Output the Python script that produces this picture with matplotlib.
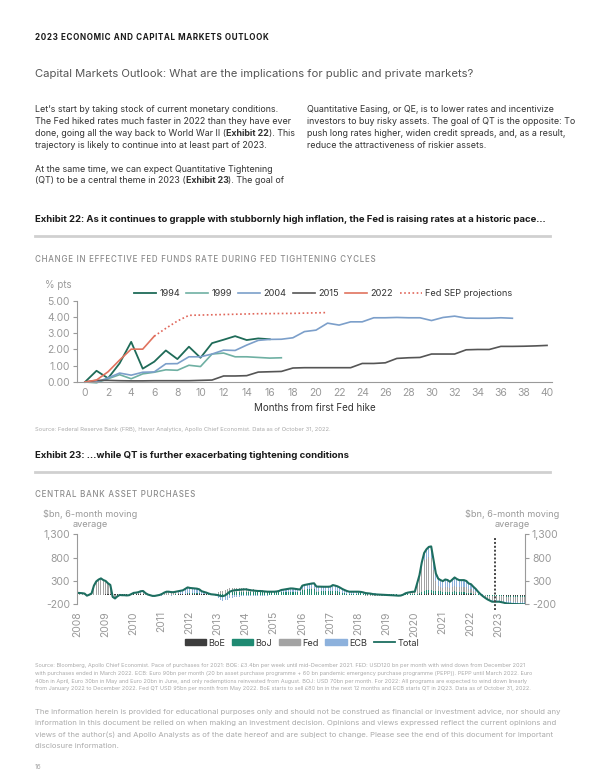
import numpy as np
import matplotlib
matplotlib.use("Agg")
import matplotlib.pyplot as plt
from matplotlib.patches import Patch
from matplotlib.lines import Line2D
from matplotlib.ticker import FuncFormatter

plt.rcParams['font.family'] = ['Inter', 'DejaVu Sans']

# ---- Exhibit 22 data: change in effective fed funds rate (% pts) by month from first hike
r1994 = [0, 0.69, 0.23, 1.15, 2.47, 0.82, 1.25, 1.94, 1.41, 2.17, 1.49, 2.39, 2.6, 2.82, 2.58, 2.68, 2.63]
r1999 = [0, -0.05, 0.2, 0.45, 0.2, 0.5, 0.6, 0.75, 0.72, 1.03, 0.95, 1.72, 1.78, 1.55, 1.55, 1.51, 1.47, 1.49]
r2004 = [0, 0, 0.25, 0.55, 0.42, 0.6, 0.62, 1.12, 1.13, 1.55, 1.55, 1.72, 1.96, 1.94, 2.27, 2.56, 2.62,
         2.63, 2.72, 3.1, 3.19, 3.62, 3.5, 3.7, 3.7, 3.95, 3.95, 3.97, 3.95, 3.95, 3.78, 3.97, 4.05,
         3.93, 3.92, 3.92, 3.95, 3.92]
r2015 = [0, 0.1, 0.1, 0.08, 0.07, 0.07, 0.08, 0.08, 0.08, 0.08, 0.1, 0.12, 0.37, 0.37, 0.39, 0.61,
         0.63, 0.65, 0.86, 0.88, 0.88, 0.88, 0.88, 0.88, 1.14, 1.14, 1.18, 1.45, 1.49, 1.51, 1.72,
         1.72, 1.72, 1.98, 2.0, 2.0, 2.19, 2.19, 2.2, 2.22, 2.25]
r2022 = [0, 0.12, 0.63, 1.35, 2.02, 2.02, 2.82]
sep_months = [6, 7, 8, 9, 12, 15, 18, 21]
sep_vals = [2.82, 3.3, 3.75, 4.1, 4.15, 4.2, 4.22, 4.27]

# ---- Exhibit 23 data: central bank asset purchases, $bn 6m avg, monthly Jan 2008 - Dec 2023
fed = [40, 38, 34, 28, -15, 4, 30, 190, 270, 305, 330, 300,
       260, 210, 175, -70, -95, -50, -15, -20, -20, -25, -20, 5,
       30, 35, 40, 40, 30, 10, 0, -5, -10, -10, 0, 10,
       30, 55, 70, 75, 70, 65, 50, 30, 10, 0, 0, 0,
       0, 0, 0, 0, 0, 0, 0, 0, 0, 5, 10, 20,
       40, 60, 75, 80, 85, 85, 85, 85, 85, 85, 85, 85,
       80, 75, 65, 60, 55, 50, 45, 40, 35, 25, 20, 15,
       10, 5, 0, 0, 0, 0, 0, 0, 0, 0, 0, 0,
       10, 10, 10, 10, 10, 10, 10, 10, 5, 5, 5, 5,
       0, 0, 0, 0, 0, 0, 0, 0, 0, 0, 0, 0,
       -10, -10, -10, -15, -15, -15, -20, -20, -20, -20, -20, -20,
       -20, -18, -20, -20, -22, -23, -20, -5, 25, 35, 40, 43,
       45, 200, 330, 520, 650, 680, 700, 690, 450, 200, 110, 90,
       95, 100, 100, 95, 110, 120, 115, 115, 115, 115, 110, 95,
       80, 60, 40, 20, 0, -30, -50, -70, -85, -95, -95, -95,
       -95, -95, -95, -95, -95, -95, -95, -95, -95, -95, -95, -95]
ecb = [5, 4, 4, 2, 0, 1, 3, 10, 20, 25, 25, 20,
       15, 15, 10, 5, 0, 0, -5, -5, -5, -5, -5, -5,
       5, 5, 10, 30, 45, 25, 5, -5, -15, -15, -15, -15,
       -15, -10, -5, -10, -15, -10, 10, 35, 60, 75, 100, 125,
       110, 105, 100, 95, 85, 50, 40, 30, 15, 0, -10, -25,
       -60, -100, -120, -115, -100, -70, -55, -45, -40, -35, -30, -25,
       -20, -25, -25, -25, -25, -25, -20, -20, -20, -15, -10, -5,
       -5, 5, 20, 40, 50, 60, 65, 70, 70, 65, 60, 59,
       80, 90, 95, 100, 105, 110, 100, 98, 96, 96, 96, 96,
       100, 120, 115, 105, 95, 80, 70, 60, 55, 55, 55, 55,
       45, 40, 35, 30, 28, 25, 25, 22, 20, 15, 12, 10,
       5, 0, 0, 0, 0, 0, 0, 0, 0, 5, 10, 15,
       15, 30, 55, 110, 160, 200, 220, 240, 200, 170, 160, 150,
       140, 160, 155, 130, 155, 180, 160, 150, 150, 150, 140, 110,
       105, 85, 70, 40, 20, 10, 0, -10, -20, -30, -30, -30,
       -30, -35, -40, -45, -48, -50, -52, -53, -54, -55, -55, -55]
boj = [0, 0, 0, 0, 0, 0, 0, 0, 0, 0, 0, 0,
       0, 0, 0, 0, 0, 0, 0, 0, 0, 0, 0, 0,
       0, 0, 0, 0, 0, 0, 0, 0, 0, 0, 0, 0,
       0, 0, 0, 0, 0, 0, 5, 5, 5, 5, 5, 7,
       10, 10, 10, 10, 10, 10, 10, 10, 10, 10, 10, 10,
       15, 20, 20, 25, 45, 55, 60, 60, 60, 60, 60, 60,
       60, 60, 60, 60, 60, 60, 60, 60, 60, 60, 60, 62,
       65, 65, 65, 66, 65, 65, 70, 70, 68, 65, 60, 56,
       110, 115, 120, 125, 130, 130, 70, 70, 70, 70, 70, 70,
       70, 80, 75, 70, 60, 45, 31, 20, 10, 10, 10, 10,
       35, 35, 30, 25, 22, 20, 15, 11, 10, 10, 11, 10,
       15, 15, 15, 12, 10, 8, 8, 10, 10, 10, 10, 10,
       10, 15, 30, 50, 60, 70, 75, 75, 65, 60, 50, 50,
       40, 45, 40, 35, 40, 45, 40, 30, 30, 30, 30, 25,
       30, 20, 15, 10, 0, -3, -5, -9, -10, -14, -14, -14,
       -14, -15, -15, -20, -20, -20, -20, -20, -20, -20, -20, -20]
boe = [0, 0, 0, 0, 0, 0, 0, 0, 0, 0, 0, 0,
       25, 25, 30, 25, 20, 20, 20, 20, 20, 20, 20, 20,
       10, 10, 10, 10, 10, 5, 5, 5, 5, 5, 5, 5,
       5, 5, 5, 5, 5, 5, 5, 10, 15, 20, 25, 30,
       30, 30, 30, 30, 25, 20, 15, 10, 5, 0, 0, 0,
       0, 0, 0, 0, 0, 0, 0, 0, 0, 0, 0, 0,
       0, 0, 0, 0, 0, 0, 0, 0, 0, 0, 0, 0,
       0, 0, 0, 0, 0, 0, 0, 0, 0, 0, 0, 0,
       0, 0, 0, 0, 0, 0, 0, 0, 5, 5, 5, 5,
       10, 12, 10, 10, 5, 5, 5, 5, 5, 5, 5, 5,
       0, 0, 0, 0, 0, 0, 0, 0, 0, 0, 0, 0,
       0, 0, 0, 0, 0, 0, 0, 0, 0, 0, 0, 0,
       0, 5, 10, 20, 30, 30, 35, 35, 30, 30, 30, 28,
       22, 27, 25, 23, 25, 30, 25, 23, 23, 23, 20, 17,
       15, 11, 5, 0, 0, 0, -5, -5, -5, -5, -5, -5,
       -5, -10, -15, -20, -22, -25, -27, -28, -28, -28, -29, -30]
year_labels = [str(y) for y in range(2008, 2024)]
qt_start = 2022 + 10.5 / 12

W, H = 600, 776
fig = plt.figure(figsize=(W / 100, H / 100), dpi=100)
renderer = fig.canvas.get_renderer()


def txt(x, y, s, **kw):
    kw.setdefault('va', 'center')
    return fig.text(x / W, 1 - y / H, s, **kw)


def runs(x, y, parts, **kw):
    # draw normal/bold pieces one after another on one line
    for s, weight in parts:
        t = txt(x, y, s, fontweight=weight, **kw)
        x += t.get_window_extent(renderer).width


def spaced(s):
    return "\u200a".join(s)


# ---- page text
txt(35, 37, spaced("2023 ECONOMIC AND CAPITAL MARKETS OUTLOOK"), fontsize=5.8, fontweight='bold', color='#1a1a1a')
txt(35, 74, "Capital Markets Outlook: What are the implications for public and private markets?",
    fontsize=8.1, color='#555555')

body = dict(fontsize=6.4, color='#333333')
left_lines = [
    [("Let\u2019s start by taking stock of current monetary conditions.", 'normal')],
    [("The Fed hiked rates much faster in 2022 than they have ever", 'normal')],
    [("done, going all the way back to World War II (", 'normal'), ("Exhibit 22", 'bold'), ("). This", 'normal')],
    [("trajectory is likely to continue into at least part of 2023.", 'normal')],
    None,
    [("At the same time, we can expect Quantitative Tightening", 'normal')],
    [("(QT) to be a central theme in 2023 (", 'normal'), ("Exhibit 23", 'bold'), ("). The goal of", 'normal')],
]
right_lines = [
    "Quantitative Easing, or QE, is to lower rates and incentivize",
    "investors to buy risky assets. The goal of QT is the opposite: To",
    "push long rates higher, widen credit spreads, and, as a result,",
    "reduce the attractiveness of riskier assets.",
]
for i, parts in enumerate(left_lines):
    if parts:
        runs(35, 110 + i * 11.8, parts, **body)
for i, s in enumerate(right_lines):
    txt(307, 110 + i * 11.8, s, **body)

txt(35, 219, "Exhibit 22: As it continues to grapple with stubbornly high inflation, the Fed is raising rates at a historic pace\u2026",
    fontsize=6.85, fontweight='bold', color='#1a1a1a')
fig.add_artist(Line2D([35 / W, 550 / W], [1 - 236 / H] * 2, color='#d0d0d0', lw=2))
txt(35, 260, spaced("CHANGE IN EFFECTIVE FED FUNDS RATE DURING FED TIGHTENING CYCLES"), fontsize=5.75,
    fontweight='medium', color='#8c8c8c')
txt(45, 285, "% pts", fontsize=7, color='#999999')

# ---- Exhibit 22 chart
ax1 = fig.add_axes([77 / W, 1 - 382 / H, 475 / W, 81.3 / H])
c1994, c1999, c2004, c2015, c2022 = '#1f6b58', '#6fb0a3', '#7c9fca', '#555555', '#e0735f'
ax1.plot(range(len(r1994)), r1994, color=c1994, lw=1.3, clip_on=False, label='1994')
ax1.plot(range(len(r1999)), r1999, color=c1999, lw=1.2, clip_on=False, label='1999')
ax1.plot(range(len(r2004)), r2004, color=c2004, lw=1.2, clip_on=False, label='2004')
ax1.plot(range(len(r2015)), r2015, color=c2015, lw=1.2, clip_on=False, label='2015')
ax1.plot(range(len(r2022)), r2022, color=c2022, lw=1.2, clip_on=False, label='2022')
ax1.plot(sep_months, sep_vals, color='#e0665a', lw=1.2, ls=(0, (1, 1.5)), clip_on=False, label='Fed SEP projections')
ax1.set_xlim(-0.69, 40.43)
ax1.set_ylim(0, 5)
ax1.set_xticks(range(0, 41, 2))
ax1.set_yticks([0, 1, 2, 3, 4, 5])
ax1.yaxis.set_major_formatter(FuncFormatter(lambda v, p: f"{v:.2f}"))
for s in ['top', 'right']:
    ax1.spines[s].set_visible(False)
for s in ['left', 'bottom']:
    ax1.spines[s].set_color('#9a9a9a')
    ax1.spines[s].set_linewidth(0.8)
ax1.tick_params(axis='x', length=0, pad=4, labelsize=7.5, labelcolor='#999999')
ax1.tick_params(axis='y', length=3, width=0.8, color='#9a9a9a', pad=2, labelsize=7.5, labelcolor='#999999')
ax1.legend(ncol=6, loc='center', bbox_to_anchor=(323 / W, 1 - 294 / H), bbox_transform=fig.transFigure,
           frameon=False, fontsize=6.6, handlelength=2.4, columnspacing=0.7, handletextpad=0.35,
           labelcolor='#333333', borderpad=0)
txt(315, 408, "Months from first Fed hike", fontsize=7, color='#333333', ha='center')
txt(35, 429, "Source: Federal Reserve Bank (FRB), Haver Analytics, Apollo Chief Economist. Data as of October 31, 2022.",
    fontsize=4.2, color='#aaaaaa')

# ---- Exhibit 23
txt(35, 455, "Exhibit 23: \u2026while QT is further exacerbating tightening conditions", fontsize=6.9,
    fontweight='bold', color='#1a1a1a')
fig.add_artist(Line2D([35 / W, 550 / W], [1 - 472 / H] * 2, color='#d0d0d0', lw=2))
txt(35, 495, spaced("CENTRAL BANK ASSET PURCHASES"), fontsize=5.75, fontweight='medium', color='#8c8c8c')
txt(90, 519, "$bn, 6-month moving\naverage", fontsize=6.6, color='#999999', ha='center', linespacing=1.1)
txt(512, 519, "$bn, 6-month moving\naverage", fontsize=6.6, color='#999999', ha='center', linespacing=1.1)

ax2 = fig.add_axes([77 / W, 1 - 604.3 / H, 448 / W, 70 / H])
x = 2008 + np.arange(len(fed)) / 12
series = [("BoE", boe, '#3d3d3d'), ("BoJ", boj, '#1f8a72'), ("Fed", fed, '#a3a3a3'), ("ECB", ecb, '#8db1dc')]
pos = np.zeros(len(x))
neg = np.zeros(len(x))
for name, vals, col in series:
    v = np.array(vals, dtype=float)
    bottom = np.where(v >= 0, pos, neg)
    ax2.bar(x, v, bottom=bottom, width=0.45 / 12, color=col, linewidth=0, align='edge')
    pos = pos + np.clip(v, 0, None)
    neg = neg + np.clip(v, None, 0)
total = pos + neg
ax2.plot(x + 0.225 / 12, total, color='#1d6e60', lw=1.5)
ax2.plot([qt_start, qt_start], [-330, 1210], color='#444444', lw=1.4, ls=(0, (1, 1)), clip_on=False)
ax2.set_xlim(2008, 2023.94)
ax2.set_ylim(-200, 1300)
ax2.set_yticks([-200, 300, 800, 1300])
ax2.yaxis.set_major_formatter(FuncFormatter(lambda v, p: f"{v:,.0f}"))
ax2.set_xticks(range(2008, 2024))
ax2.set_xticklabels(year_labels, rotation=90)
for s in ['top', 'bottom']:
    ax2.spines[s].set_visible(False)
for s in ['left', 'right']:
    ax2.spines[s].set_color('#9a9a9a')
    ax2.spines[s].set_linewidth(0.8)
ax2.tick_params(axis='x', length=0, pad=5, labelsize=7.5, labelcolor='#999999')
ax2.tick_params(axis='y', length=3, width=0.8, color='#9a9a9a', pad=2, labelsize=7.5, labelcolor='#999999',
                right=True, labelright=True)
handles = [Patch(color=c, label=n) for n, _, c in series] + [Line2D([], [], color='#1d6e60', lw=1.3, label='Total')]
ax2.legend(handles=handles, ncol=5, loc='center', bbox_to_anchor=(302 / W, 1 - 643 / H),
           bbox_transform=fig.transFigure, frameon=False, fontsize=6.6, handlelength=2.3, handleheight=0.6,
           columnspacing=0.7, handletextpad=0.3, labelcolor='#333333', borderpad=0)

src2 = [
    "Source: Bloomberg, Apollo Chief Economist. Pace of purchases for 2021: BOE: \u00a33.4bn per week until mid-December 2021. FED: USD120 bn per month with wind down from December 2021",
    "with purchases ended in March 2022. ECB: Euro 90bn per month (20 bn asset purchase programme + 60 bn pandemic emergency purchase programme (PEPP)). PEPP until March 2022. Euro",
    "40bn in April, Euro 30bn in May and Euro 20bn in June, and only redemptions reinvested from August. BOJ: USD 70bn per month. For 2022: All programs are expected to wind down linearly",
    "from January 2022 to December 2022. Fed QT USD 95bn per month from May 2022. BoE starts to sell \u00a380 bn in the next 12 months and ECB starts QT in 2Q23. Data as of October 31, 2022.",
]
for i, s in enumerate(src2):
    txt(35, 666 + i * 7.5, s, fontsize=4.0, color='#aaaaaa')

disc = [
    "The information herein is provided for educational purposes only and should not be construed as financial or investment advice, nor should any",
    "information in this document be relied on when making an investment decision. Opinions and views expressed reflect the current opinions and",
    "views of the author(s) and Apollo Analysts as of the date hereof and are subject to change. Please see the end of this document for important",
    "disclosure information.",
]
for i, s in enumerate(disc):
    txt(35, 712 + i * 11.2, s, fontsize=5.55, color='#aaaaaa')
txt(35, 767, "16", fontsize=4.8, color='#aaaaaa')

fig.savefig("out.png", dpi=100)
